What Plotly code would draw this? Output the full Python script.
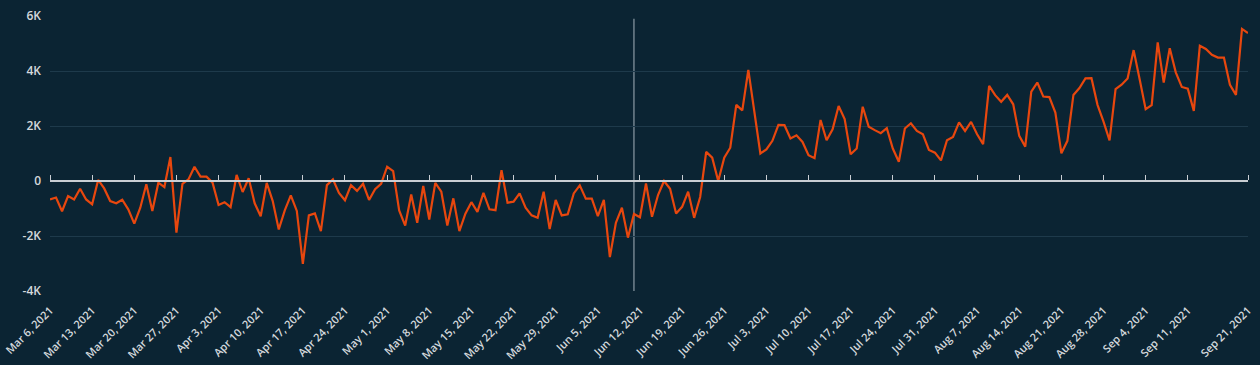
import pandas as pd
import plotly.graph_objects as go

start_date = "2021-03-06"
values_k = [
    -0.67, -0.60, -1.10, -0.55, -0.67, -0.28, -0.67, -0.85, 0.04, -0.27,
    -0.73, -0.81, -0.68, -1.03, -1.55, -0.97, -0.12, -1.09, -0.06, -0.22,
    0.87, -1.88, -0.10, 0.06, 0.52, 0.16, 0.16, -0.06, -0.87, -0.77,
    -0.95, 0.22, -0.40, 0.10, -0.81, -1.28, -0.07, -0.73, -1.76, -1.07,
    -0.52, -1.09, -3.01, -1.25, -1.18, -1.82, -0.15, 0.06, -0.43, -0.70,
    -0.15, -0.36, -0.10, -0.69, -0.30, -0.10, 0.52, 0.36, -1.07, -1.62,
    -0.49, -1.52, -0.18, -1.40, -0.07, -0.39, -1.62, -0.63, -1.82, -1.19,
    -0.77, -1.12, -0.43, -1.03, -1.06, 0.39, -0.79, -0.75, -0.45, -0.97,
    -1.25, -1.34, -0.39, -1.75, -0.69, -1.25, -1.21, -0.45, -0.16, -0.64,
    -0.64, -1.28, -0.69, -2.77, -1.52, -0.97, -2.06, -1.20, -1.32, -0.09,
    -1.30, -0.51, 0.00, -0.28, -1.18, -0.94, -0.39, -1.34, -0.58, 1.06,
    0.85, 0.00, 0.85, 1.21, 2.77, 2.57, 4.04, 2.43, 1.00, 1.15,
    1.46, 2.04, 2.03, 1.55, 1.66, 1.42, 0.94, 0.83, 2.22, 1.48,
    1.88, 2.73, 2.25, 0.97, 1.18, 2.70, 1.97, 1.85, 1.74, 1.92,
    1.18, 0.70, 1.91, 2.10, 1.82, 1.70, 1.13, 1.03, 0.75, 1.48,
    1.60, 2.13, 1.82, 2.15, 1.70, 1.34, 3.46, 3.12, 2.88, 3.13,
    2.79, 1.64, 1.25, 3.25, 3.58, 3.07, 3.05, 2.49, 1.01, 1.46,
    3.13, 3.38, 3.73, 3.74, 2.77, 2.16, 1.48, 3.34, 3.50, 3.73,
    4.76, 3.70, 2.61, 2.76, 5.04, 3.58, 4.83, 3.95, 3.42, 3.36,
    2.55, 4.92, 4.80, 4.59, 4.49, 4.49, 3.50, 3.13, 5.53, 5.38,
]
tick_dates = [
    "2021-03-06", "2021-03-13", "2021-03-20", "2021-03-27", "2021-04-03",
    "2021-04-10", "2021-04-17", "2021-04-24", "2021-05-01", "2021-05-08",
    "2021-05-15", "2021-05-22", "2021-05-29", "2021-06-05", "2021-06-12",
    "2021-06-19", "2021-06-26", "2021-07-03", "2021-07-10", "2021-07-17",
    "2021-07-24", "2021-07-31", "2021-08-07", "2021-08-14", "2021-08-21",
    "2021-08-28", "2021-09-04", "2021-09-11", "2021-09-21",
]
tick_labels = [
    "Mar 6, 2021", "Mar 13, 2021", "Mar 20, 2021", "Mar 27, 2021", "Apr 3, 2021",
    "Apr 10, 2021", "Apr 17, 2021", "Apr 24, 2021", "May 1, 2021", "May 8, 2021",
    "May 15, 2021", "May 22, 2021", "May 29, 2021", "Jun 5, 2021", "Jun 12, 2021",
    "Jun 19, 2021", "Jun 26, 2021", "Jul 3, 2021", "Jul 10, 2021", "Jul 17, 2021",
    "Jul 24, 2021", "Jul 31, 2021", "Aug 7, 2021", "Aug 14, 2021", "Aug 21, 2021",
    "Aug 28, 2021", "Sep 4, 2021", "Sep 11, 2021", "Sep 21, 2021",
]
y_tick_vals = [-4000, -2000, 0, 2000, 4000, 6000]
y_tick_labels = ["-4K", "-2K", "0", "2K", "4K", "6K"]
marker_date = "2021-06-11"

dates = pd.date_range(start_date, periods=len(values_k), freq="D")
values = [v * 1000 for v in values_k]
x_range = [dates[0], dates[-1]]

BG = "#0b2433"
GRID = "#1e3a4b"
TEXT = "#d3d8dc"
AXIS = "#c9ced3"

fig = go.Figure()
fig.add_trace(go.Scatter(
    x=dates, y=values, mode="lines",
    line=dict(color="#e8470e", width=2.2),
    showlegend=False, hoverinfo="x+y",
))
# same series on overlay axis (invisible) so the zero-line tick axis is drawn
fig.add_trace(go.Scatter(
    x=dates, y=values, mode="lines", xaxis="x2",
    line=dict(color="rgba(0,0,0,0)", width=0),
    showlegend=False, hoverinfo="skip",
))

fig.add_shape(type="line", xref="x", yref="paper",
              x0=marker_date, x1=marker_date, y0=0, y1=0.99,
              line=dict(color="#8c9ba6", width=1.2), layer="below")

font_family = "Open Sans, Noto Sans, sans-serif"
fig.update_layout(
    width=1260, height=365,
    paper_bgcolor=BG, plot_bgcolor=BG,
    margin=dict(l=50, r=12, t=16, b=74, autoexpand=False),
    font=dict(family=font_family, size=12, color=TEXT),
    xaxis=dict(
        type="date", range=x_range, automargin=False,
        tickvals=tick_dates, ticktext=tick_labels, tickangle=-45,
        showgrid=False, zeroline=False, showline=False, ticks="",
        ticklabelstandoff=10, ticklabeloverflow="allow",
        tickfont=dict(family=font_family, size=11, color=TEXT, weight=600),
    ),
    xaxis2=dict(
        type="date", range=x_range, overlaying="x", anchor="free",
        position=0.4, side="top", automargin=False,
        tickvals=tick_dates, showticklabels=False,
        ticks="outside", ticklen=5, tickwidth=1, tickcolor=AXIS,
        showgrid=False, zeroline=False,
        showline=True, linecolor=AXIS, linewidth=2,
    ),
    yaxis=dict(
        range=[-4000, 6000], tickvals=y_tick_vals, ticktext=y_tick_labels,
        automargin=False,
        showgrid=True, gridcolor=GRID, gridwidth=1,
        zeroline=False, showline=False, ticks="",
        ticklabelstandoff=8,
        tickfont=dict(family=font_family, size=12, color=TEXT, weight=600),
    ),
)

fig.write_html(
    "out.html",
    config={"displayModeBar": False},
    post_script="document.body.style.margin='0';document.body.style.background='%s';" % BG,
)
